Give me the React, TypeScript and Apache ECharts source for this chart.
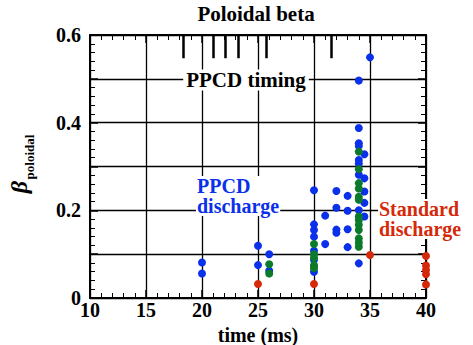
import React, { useEffect, useRef } from "react";
import * as echarts from "echarts";

// Axis ranges and labelled ticks
const timeRange = [10, 40];
const timeStep = 5;
const betaRange = [0, 0.6];
const betaStep = 0.1;
const betaLabelled = [0, 0.2, 0.4, 0.6];

// PPCD trigger times (ms), drawn as short marks hanging from the top edge
const ppcdTiming = [18.3, 21.0, 22.1, 23.2, 25.7, 31.5];
const ppcdMarkSpan = [0.6, 0.547];

// [time (ms), poloidal beta]
const standardRed: [number, number][] = [
  [25, 0.032],
  [30, 0.032],
  [30, 0.072],
  [35, 0.098],
  [40, 0.096],
  [40, 0.074],
  [40, 0.064],
  [40, 0.054],
  [40, 0.031],
];

const ppcdBlue: [number, number][] = [
  [20, 0.081], [20, 0.056],
  [25, 0.119], [25, 0.075],
  [26, 0.1], [26, 0.062],
  [30, 0.246], [30, 0.168], [30, 0.155], [30, 0.14], [30, 0.108], [30, 0.087], [30, 0.06],
  [31, 0.188], [31, 0.123],
  [32, 0.244], [32, 0.206], [32, 0.156], [32, 0.149],
  [33, 0.233], [33, 0.199], [33, 0.157], [33, 0.116],
  [34, 0.496], [34, 0.388], [34, 0.353], [34, 0.347], [34, 0.315], [34, 0.307], [34, 0.281], [34, 0.2], [34, 0.079],
  [34.5, 0.328], [34.5, 0.273], [34.5, 0.243], [34.5, 0.217], [34.5, 0.186],
  [35, 0.549],
];

const ppcdGreen: [number, number][] = [
  [26, 0.077], [26, 0.056],
  [30, 0.123], [30, 0.1], [30, 0.092], [30, 0.075], [30, 0.068],
  [34, 0.334], [34, 0.294], [34, 0.262], [34, 0.25], [34, 0.231], [34, 0.224],
  [34, 0.186], [34, 0.178], [34, 0.167], [34, 0.155], [34, 0.136], [34, 0.126], [34, 0.117],
];

const SERIF = "'Liberation Serif', 'Times New Roman', serif";
const BLUE = "#0a30ea";
const GREEN = "#0b7a2b";
const RED = "#d42a0a";

function frameAxis(extra: any) {
  return {
    type: "value",
    axisLine: { show: true, onZero: false, lineStyle: { color: "#000", width: 2 } },
    axisTick: { show: true, inside: true, length: 8, lineStyle: { color: "#000", width: 1.5 } },
    minorTick: { show: true, splitNumber: 5, length: 5, lineStyle: { color: "#000", width: 1 } },
    ...extra,
  };
}

function label(text: string, x: number, y: number, size: number, fill: string, extra: any = {}) {
  return {
    type: "text",
    x,
    y,
    z: 100,
    style: {
      text,
      fontFamily: SERIF,
      fontWeight: "bold",
      fontSize: size,
      fill,
      align: "center",
      verticalAlign: "middle",
      ...extra,
    },
  };
}

export default function App() {
  const ref = useRef<HTMLDivElement>(null);

  useEffect(() => {
    if (!ref.current) return;
    const chart = echarts.init(ref.current, undefined, { renderer: "svg" });

    const xCommon = { min: timeRange[0], max: timeRange[1], interval: timeStep };
    const yCommon = { min: betaRange[0], max: betaRange[1], interval: betaStep };
    const grid = { color: "#000", width: 1.3 };
    const dot = (color: string) => ({ color, opacity: 1 });

    chart.setOption({
      animation: false,
      backgroundColor: "#fff",
      textStyle: { fontFamily: SERIF },
      grid: {
        left: 90,
        right: 47,
        top: 35,
        bottom: 47,
        containLabel: false,
        outerBoundsMode: "none",
      },
      xAxis: [
        frameAxis({
          ...xCommon,
          position: "bottom",
          splitLine: { show: true, lineStyle: grid },
          axisLabel: {
            color: "#000",
            fontFamily: SERIF,
            fontWeight: "bold",
            fontSize: 20,
            margin: 2,
          },
          name: "time (ms)",
          nameLocation: "middle",
          nameGap: 27,
          nameTextStyle: { color: "#000", fontFamily: SERIF, fontWeight: "bold", fontSize: 20 },
        }),
        frameAxis({
          ...xCommon,
          position: "top",
          splitLine: { show: false },
          axisLabel: { show: false },
        }),
      ],
      yAxis: [
        frameAxis({
          ...yCommon,
          position: "left",
          splitLine: { show: true, lineStyle: grid },
          axisLabel: {
            color: "#000",
            fontFamily: SERIF,
            fontWeight: "bold",
            fontSize: 20,
            margin: 9,
            showMinLabel: true,
            showMaxLabel: true,
            formatter: (v: number) => {
              const hit = betaLabelled.find((b) => Math.abs(b - v) < 1e-6);
              if (hit === undefined) return "";
              return hit === 0 ? "0" : hit.toFixed(1);
            },
          },
        }),
        frameAxis({
          ...yCommon,
          position: "right",
          splitLine: { show: false },
          axisLabel: { show: false },
        }),
      ],
      series: [
        {
          type: "scatter",
          name: "Standard discharge",
          data: standardRed,
          symbolSize: 8,
          itemStyle: dot(RED),
          z: 3,
        },
        {
          type: "scatter",
          name: "PPCD discharge",
          data: ppcdBlue,
          symbolSize: 8,
          itemStyle: dot(BLUE),
          z: 4,
        },
        {
          type: "scatter",
          name: "PPCD discharge (green)",
          data: ppcdGreen,
          symbolSize: 8,
          itemStyle: dot(GREEN),
          z: 5,
        },
        {
          type: "scatter",
          name: "PPCD timing",
          data: [],
          markLine: {
            silent: true,
            symbol: ["none", "none"],
            label: { show: false },
            lineStyle: { color: "#000", width: 2.5, type: "solid" },
            data: ppcdTiming.map((t) => [
              { coord: [t, ppcdMarkSpan[0]] },
              { coord: [t, ppcdMarkSpan[1]] },
            ]),
          },
          z: 6,
        },
      ],
      graphic: [
        label("Poloidal beta", 256, 14, 21, "#000"),
        label("PPCD timing", 246, 80, 21, "#000", { backgroundColor: "#fff", padding: [0, 3] }),
        label("PPCD\ndischarge", 196, 196, 20, BLUE, {
          align: "left",
          lineHeight: 20,
          backgroundColor: "#fff",
          padding: [0, 1],
        }),
        label("Standard\ndischarge", 378, 219, 20, RED, {
          align: "left",
          lineHeight: 20,
          backgroundColor: "#fff",
          padding: [0, 1],
        }),
        { ...label("β", 19, 187, 24, "#000", { fontStyle: "italic" }), rotation: Math.PI / 2 },
        { ...label("poloidal", 29, 157, 13, "#000"), rotation: Math.PI / 2 },
      ],
    });

    return () => chart.dispose();
  }, []);

  return (
    <div
      ref={ref}
      style={{ position: "fixed", left: 0, top: 0, width: 473, height: 345, background: "#fff" }}
    />
  );
}
